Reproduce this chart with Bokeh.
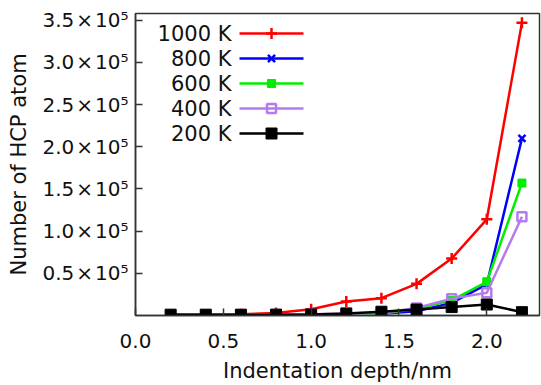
from bokeh.plotting import figure
from bokeh.models import FixedTicker, Label, Range1d, NumeralTickFormatter
from bokeh.embed import file_html
from bokeh.resources import INLINE

depth = [0.2, 0.4, 0.6, 0.8, 1.0, 1.2, 1.4, 1.6, 1.8, 2.0, 2.2]
k1000 = [1000, 1000, 1500, 3000, 7500, 16500, 20500, 37500, 67500, 114000, 347000]
k800 = [1000, 1000, 1000, 1200, 1500, 1500, 2000, 5000, 15000, 37000, 210000]
k600 = [1000, 1000, 1000, 1200, 1500, 1500, 2000, 8000, 18000, 40000, 157000]
k400 = [1000, 1000, 1000, 1200, 1500, 2000, 3000, 9000, 20000, 27000, 117000]
k200 = [1000, 1000, 1000, 1000, 1200, 2500, 4500, 7000, 10000, 13000, 4000]
series_names = ["1000 K", "800 K", "600 K", "400 K", "200 K"]
x_ticks = [0.0, 0.5, 1.0, 1.5, 2.0]
y_ticks = [50000, 100000, 150000, 200000, 250000, 300000, 350000]
y_tick_labels = ["0.5\u200a×\u200a10⁵", "1.0\u200a×\u200a10⁵", "1.5\u200a×\u200a10⁵", "2.0\u200a×\u200a10⁵",
                 "2.5\u200a×\u200a10⁵", "3.0\u200a×\u200a10⁵", "3.5\u200a×\u200a10⁵"]
x_title = "Indentation depth/nm"
y_title = "Number of HCP atom"

XMAX = 2.3
YMAX = 358000
FONT = "DejaVu Sans"

p = figure(width=541, height=385, output_backend="svg", toolbar_location=None,
           x_range=Range1d(0, XMAX), y_range=Range1d(0, YMAX),
           min_border_left=135, min_border_right=2, min_border_top=13, min_border_bottom=70)
p.background_fill_color = "white"
p.border_fill_color = "white"
p.grid.visible = False
p.outline_line_color = "#333333"
p.outline_line_width = 1.5

for ax in (p.xaxis, p.yaxis):
    ax.axis_line_color = "#333333"
    ax.axis_line_width = 1.5
    ax.major_tick_in = 7
    ax.major_tick_out = 0
    ax.minor_tick_line_color = None
    ax.major_tick_line_color = "#333333"
    ax.major_tick_line_width = 1.5
    ax.major_label_text_font = FONT
    ax.major_label_text_font_size = "20px"
    ax.major_label_text_color = "#111111"
    ax.axis_label_text_font = FONT
    ax.axis_label_text_font_size = "21px"
    ax.axis_label_text_font_style = "normal"
    ax.axis_label_text_color = "#111111"

p.xaxis.ticker = FixedTicker(ticks=x_ticks)
p.xaxis.formatter = NumeralTickFormatter(format="0.0")
p.xaxis.major_label_standoff = 18
p.xaxis.axis_label = x_title
p.xaxis.axis_label_standoff = 8

p.yaxis.ticker = FixedTicker(ticks=y_ticks)
p.yaxis.major_label_overrides = {t: l for t, l in zip(y_ticks, y_tick_labels)}
p.yaxis.major_label_standoff = 7
p.yaxis.axis_label = y_title
p.yaxis.axis_label_standoff = 8

styles = [
    (k1000, "#ff0000", "cross", 11, "#ff0000"),
    (k800, "#0000ff", "x", 10, "#0000ff"),
    (k600, "#00ee00", "square", 8, "#00ee00"),
    (k400, "#b57bee", "square", 9, None),
    (k200, "#000000", "square", 11, "#000000"),
]

def sx(px):
    return (px - 135) / 404 * XMAX

def sy(py):
    return (315 - py) / 302 * YMAX

for i, ((ys, color, marker, size, fill), name) in enumerate(zip(styles, series_names)):
    lw = 1 if (marker == "square" and fill) else 2.5
    p.line(depth, ys, line_color=color, line_width=2.5)
    p.scatter(depth, ys, marker=marker, size=size, line_color=color, line_width=lw,
              fill_color=fill if fill else "white", fill_alpha=1 if fill else 0)
    # legend entry
    ly = 33 + 25 * i
    p.line([sx(239), sx(303)], [sy(ly), sy(ly)], line_color=color, line_width=2.5)
    p.scatter([sx(271)], [sy(ly)], marker=marker, size=size, line_color=color, line_width=lw,
              fill_color=fill if fill else "white", fill_alpha=1 if fill else 0)
    p.add_layout(Label(x=sx(231), y=sy(ly), text=name,
                       text_align="right", text_baseline="middle", text_font=FONT,
                       text_font_size="21px", text_color="#111111"))

open("out.html", "w").write(file_html(p, INLINE))
